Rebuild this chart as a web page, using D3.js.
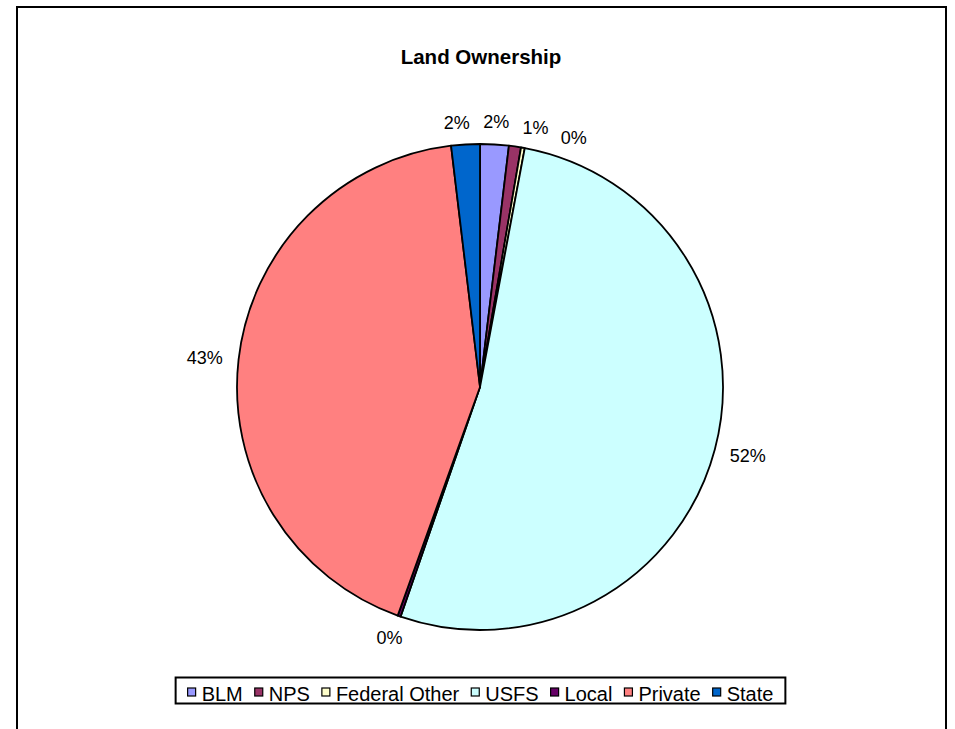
<!DOCTYPE html>
<html>
<head>
<meta charset="utf-8">
<script src="https://cdn.jsdelivr.net/npm/d3@7"></script>
<style>
  body { margin: 0; background: #fff; }
  text { font-family: Arial, "Liberation Sans", sans-serif; }
</style>
</head>
<body>
<svg></svg>
<script>
// land ownership shares, in percent (clockwise from 12 o'clock)
const CATEGORIES = ['BLM', 'NPS', 'Federal Other', 'USFS', 'Local', 'Private', 'State'];
const SHARES = [1.9, 0.8, 0.25, 52.35, 0.2, 42.6, 1.9];
const COLORS = ['#9999ff', '#993366', '#ffffcc', '#ccffff', '#660066', '#ff8080', '#0066cc'];

const WIDTH = 955;
const HEIGHT = 729;
const CX = 480, CY = 387, R = 243;
const LABEL_PAD = 16;   // gap between rim and label box
const LABEL_GAP = 12;   // min gap between two labels

const data = CATEGORIES.map((c, i) => ({name: c, value: SHARES[i], color: COLORS[i]}));
const total = d3.sum(SHARES);
const pct = d3.format('.0%');

const svg = d3.select('svg')
    .attr('width', WIDTH)
    .attr('height', HEIGHT);

// chart frame (runs off the bottom of the picture)
svg.append('rect')
    .attr('x', 17).attr('y', 7)
    .attr('width', 929).attr('height', 760)
    .attr('fill', 'none')
    .attr('stroke', '#000')
    .attr('stroke-width', 2);

svg.append('text')
    .attr('x', CX + 1).attr('y', 64)
    .attr('text-anchor', 'middle')
    .attr('font-size', 20.5)
    .attr('font-weight', 'bold')
    .text('Land Ownership');

const pie = d3.pie().sort(null).value(d => d.value);
const arc = d3.arc().innerRadius(0).outerRadius(R);
const arcs = pie(data);

const g = svg.append('g').attr('transform', `translate(${CX},${CY})`);

g.selectAll('.slice')
    .data(arcs)
    .enter()
    .append('path')
    .classed('slice', true)
    .attr('d', arc)
    .attr('fill', d => d.data.color)
    .attr('stroke', '#000')
    .attr('stroke-width', 1.8)
    .attr('stroke-linejoin', 'round');

// data labels outside the rim; if one bumps into a label already placed
// it slides along the rim to the nearest free spot
const placed = [];
function overlaps(b) {
    return placed.some(p => b.x0 < p.x1 + LABEL_GAP && b.x1 + LABEL_GAP > p.x0 &&
                            b.y0 < p.y1 + LABEL_GAP && b.y1 + LABEL_GAP > p.y0);
}
function boxAt(a, w, h) {
    const s = Math.sin(a), c = Math.cos(a);
    const x = (R + LABEL_PAD) * s + w / 2 * s;
    const y = -(R + LABEL_PAD) * c - h / 2 * c;
    return {x: x, y: y, x0: x - w / 2, x1: x + w / 2, y0: y - h / 2, y1: y + h / 2};
}

arcs.forEach(d => {
    const t = g.append('text')
        .attr('font-size', 18)
        .attr('text-anchor', 'middle')
        .text(pct(d.data.value / total));
    const w = t.node().getComputedTextLength();
    const h = 13;
    const mid = (d.startAngle + d.endAngle) / 2;
    let box = boxAt(mid, w, h);
    for (let k = 1; k < 200 && overlaps(box); k++) {
        const step = Math.ceil(k / 2) * Math.PI / 360;
        box = boxAt(k % 2 ? mid + step : mid - step, w, h);
    }
    placed.push(box);
    t.attr('x', box.x).attr('y', box.y + h / 2);
});

// legend box along the bottom
const legend = svg.append('g');
const items = legend.selectAll('.item')
    .data(data)
    .enter()
    .append('g')
    .classed('item', true);

items.append('rect')
    .attr('width', 8).attr('height', 8)
    .attr('fill', d => d.color)
    .attr('stroke', '#000')
    .attr('stroke-width', 1.2);

items.append('text')
    .attr('x', 14)
    .attr('y', 13)
    .attr('font-size', 20)
    .text(d => d.name);

const offsets = [];
let lx = 0;
items.each(function () {
    const w = d3.select(this).select('text').node().getComputedTextLength();
    offsets.push(lx);
    lx += 14 + w + 12;
});
const contentW = lx - 12;
const boxW = contentW + 24;
const boxX = CX + 0.5 - boxW / 2;

legend.insert('rect', ':first-child')
    .attr('x', boxX).attr('y', 677.5)
    .attr('width', boxW).attr('height', 26)
    .attr('fill', '#fff')
    .attr('stroke', '#000')
    .attr('stroke-width', 2);

items.attr('transform', (d, i) => `translate(${boxX + 12 + offsets[i]},688)`);
</script>
</body>
</html>
